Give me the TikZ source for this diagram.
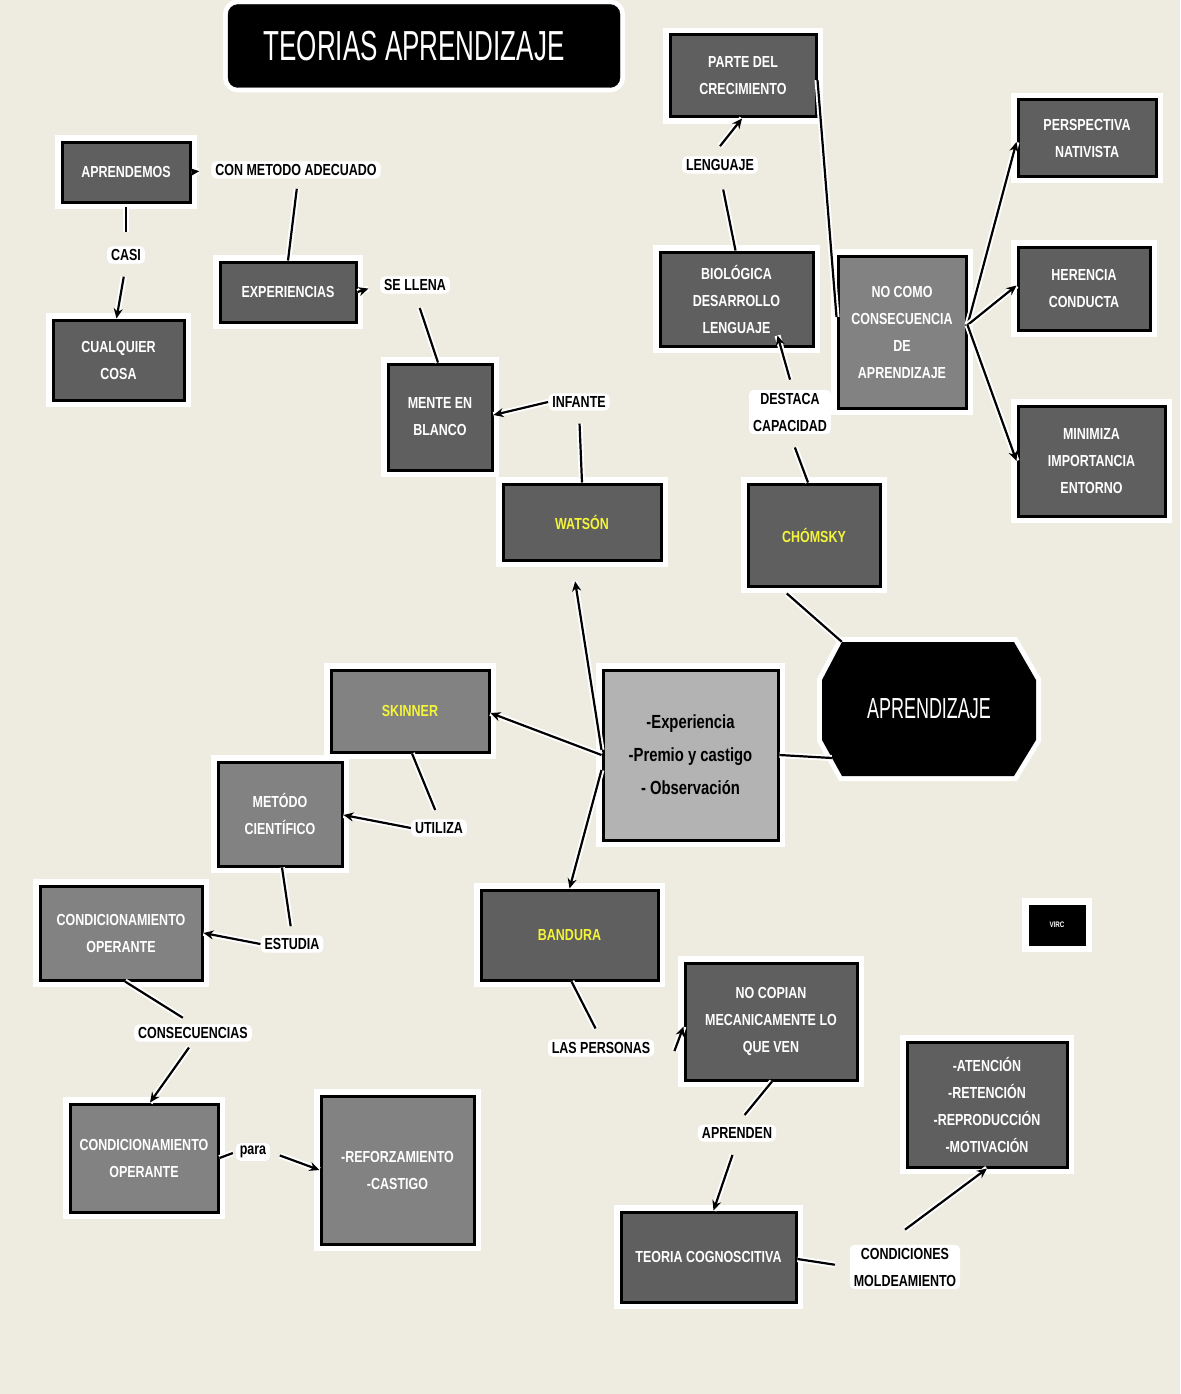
\documentclass[tikz,border=0pt]{standalone}
\usepackage{fontspec}
\setmainfont{Liberation Sans}
\newfontfamily\narf[FakeStretch=0.78]{Liberation Sans}
\newfontfamily\titf[FakeStretch=0.62]{Liberation Sans}
\usetikzlibrary{arrows.meta}
\definecolor{bgc}{HTML}{EEEBE0}
\definecolor{dkg}{HTML}{5F5F5F}
\definecolor{mdg}{HTML}{828282}
\definecolor{ltg}{HTML}{B3B3B3}
\definecolor{yel}{HTML}{F4F43A}
\pgfdeclarelayer{canvas}
\pgfsetlayers{canvas,main}
\newcommand\bxfont{\narf\bfseries\fontsize{16}{27}\selectfont}
\tikzset{
 box/.style={draw=black,line width=3pt,fill=dkg,preaction={draw=white,line width=14pt},text=white,font=\bxfont,align=center,inner sep=0pt},
 boxm/.style={box,fill=mdg},
 lab/.style={fill=white,rounded corners=5pt,inner xsep=4pt,inner ysep=3pt,text=black,font=\bxfont,align=center},
 conn/.style={line width=2.2pt,black,preaction={draw=white,line width=6pt,arrows=-}},
 arr/.style={conn,-{Stealth[length=10pt,width=9pt]}},
 yname/.style={text=yel}
}
\begin{document}
\begin{tikzpicture}[x=1pt,y=-1pt]
\begin{pgfonlayer}{canvas}
\fill[bgc] (0,0) rectangle (1180,1394);
\end{pgfonlayer}
\useasboundingbox (0,0) rectangle (1180,1394);

% title
\node[draw=black,fill=black,rounded corners=10pt,preaction={draw=white,line width=10pt},minimum width=392pt,minimum height=83pt,text=white,font=\titf\fontsize{42}{46}\selectfont,inner sep=0pt] (title) at (424,46) {TEORIAS APRENDIZAJE\hspace*{20pt}};

% boxes
\node[box,minimum width=128pt,minimum height=60pt] (aprendemos) at (126,172) {APRENDEMOS};
\node[box,minimum width=131pt,minimum height=80pt] (cualquier) at (118.5,360) {CUALQUIER\\COSA};
\node[box,minimum width=136pt,minimum height=60pt] (experiencias) at (288,292) {EXPERIENCIAS};
\node[box,minimum width=104pt,minimum height=106pt] (mente) at (440,417) {MENTE EN\\BLANCO};
\node[box,minimum width=158pt,minimum height=76pt,yname] (watson) at (582,522) {WATSÓN};
\node[box,minimum width=146pt,minimum height=82pt] (parte) at (743,76) {PARTE DEL\\CRECIMIENTO};
\node[box,minimum width=153pt,minimum height=94pt] (biologica) at (736.5,299) {BIOLÓGICA\\DESARROLLO\\LENGUAJE};
\node[boxm,minimum width=128pt,minimum height=152pt] (nocomo) at (902,332) {NO COMO\\CONSECUENCIA\\DE\\APRENDIZAJE};
\node[box,minimum width=138pt,minimum height=76pt] (perspectiva) at (1087,138) {PERSPECTIVA\\NATIVISTA};
\node[box,minimum width=132pt,minimum height=83pt] (herencia) at (1084,288.5) {HERENCIA\\CONDUCTA};
\node[box,minimum width=147pt,minimum height=110pt] (minimiza) at (1091.5,461) {MINIMIZA\\IMPORTANCIA\\ENTORNO};
\node[box,minimum width=132pt,minimum height=102pt,yname] (chomsky) at (814,535) {CHÓMSKY};
\node[box,fill=ltg,text=black,font=\narf\bfseries\fontsize{19}{33}\selectfont,minimum width=175pt,minimum height=170pt] (central) at (690.5,755) {-Experiencia\\-Premio y castigo\\- Observación};
\node[boxm,minimum width=158pt,minimum height=82pt,yname] (skinner) at (410,711) {SKINNER};
\node[boxm,minimum width=124pt,minimum height=104pt] (metodo) at (280,814) {METÓDO\\CIENTÍFICO};
\node[boxm,minimum width=162pt,minimum height=94pt] (cond1) at (121,933) {CONDICIONAMIENTO\\OPERANTE};
\node[boxm,minimum width=148pt,minimum height=108pt] (cond2) at (144,1158) {CONDICIONAMIENTO\\OPERANTE};
\node[boxm,minimum width=153pt,minimum height=148pt] (reforz) at (397.5,1170) {-REFORZAMIENTO\\-CASTIGO};
\node[box,minimum width=177pt,minimum height=90pt,yname] (bandura) at (569.5,935) {BANDURA};
\node[box,minimum width=172pt,minimum height=117pt] (nocopian) at (771,1021.5) {NO COPIAN\\MECANICAMENTE LO\\QUE VEN};
\node[box,minimum width=175pt,minimum height=90pt] (teoria) at (708.5,1257) {TEORIA COGNOSCITIVA};
\node[box,minimum width=160pt,minimum height=125pt] (atencion) at (987,1104.5) {-ATENCIÓN\\-RETENCIÓN\\-REPRODUCCIÓN\\-MOTIVACIÓN};
\node[box,fill=black,line width=1pt,minimum width=56pt,minimum height=40pt,font=\narf\bfseries\fontsize{8}{9}\selectfont] (virc) at (1057,925) {VIRC};

% octagon
\fill[black,preaction={draw=white,line width=10pt}] (842,642) -- (1014,642) -- (1036,680) -- (1036,740) -- (1014,776) -- (842,776) -- (822,740) -- (822,680) -- cycle;
\node[minimum width=214pt,minimum height=134pt,inner sep=0pt,text=white,font=\titf\fontsize{29}{32}\selectfont] (apz) at (929,709) {APRENDIZAJE};

% labels
\node[lab] (adecuado) at (296,170) {CON METODO ADECUADO};
\node[lab] (casi) at (126,255) {CASI};
\node[lab] (sellena) at (415,285) {SE LLENA};
\node[lab] (infante) at (579,402) {INFANTE};
\node[lab] (lenguaje) at (720,165) {LENGUAJE};
\node[lab] (destaca) at (790,412) {DESTACA\\CAPACIDAD};
\node[lab] (utiliza) at (439,828) {UTILIZA};
\node[lab] (estudia) at (292,944) {ESTUDIA};
\node[lab] (consecuencias) at (193,1033) {CONSECUENCIAS};
\node[lab] (para) at (253,1152) {para};
\node[lab] (laspersonas) at (601,1048) {LAS PERSONAS};
\node[lab] (aprenden) at (737,1133) {APRENDEN};
\node[lab] (condiciones) at (905,1267) {CONDICIONES\\MOLDEAMIENTO};

% connectors
\draw[arr,shorten >=12pt] (aprendemos.east) -- (adecuado.west);
\draw[conn,shorten <=10pt] ([xshift=2pt]adecuado.south) -- (experiencias.north);
\draw[conn,shorten <=3pt,shorten >=14pt] (aprendemos.south) -- (casi.north);
\draw[arr,shorten <=13pt] (casi.south) -- ([xshift=-2pt]cualquier.north);
\draw[arr,shorten >=12pt] (experiencias.east) -- (sellena.west);
\draw[conn,shorten <=15pt] (sellena.south) -- ([xshift=-2pt]mente.north);
\draw[arr] (infante.west) -- ([yshift=2pt]mente.east);
\draw[conn,shorten <=13pt] (infante.south) -- (watson.north);
\draw[arr,shorten >=20pt] ([yshift=5pt]central.west) -- ([xshift=-10pt]watson.south);
\draw[arr] (central.west) -- ([yshift=-2pt]skinner.east);
\draw[arr] ([yshift=-15pt]central.west) -- (bandura.north);
\draw[conn] (central.east) -- ([xshift=10pt,yshift=-49pt]apz.west);
\draw[conn,shorten >=9pt] ([xshift=20pt]apz.north west) -- ([xshift=-34pt]chomsky.south);
\draw[conn,shorten >=14pt] ([xshift=-6pt]chomsky.north) -- (destaca.south);
\draw[arr] ([yshift=10pt]destaca.north) -- ([xshift=41pt,yshift=12pt]biologica.south);
\draw[conn,shorten >=16pt] ([xshift=-1pt]biologica.north) -- (lenguaje.south);
\draw[arr] ([yshift=10pt]lenguaje.north) -- ([xshift=-1pt]parte.south);
\draw[conn] ([yshift=-4pt]parte.east) -- ([yshift=15pt]nocomo.west);
\draw[arr] ([yshift=7pt]nocomo.east) -- ([yshift=-4pt]perspectiva.west);
\draw[arr] ([yshift=7pt]nocomo.east) -- ([yshift=3pt]herencia.west);
\draw[arr] ([yshift=7pt]nocomo.east) -- (minimiza.west);
\draw[conn,shorten >=10pt] ([xshift=2pt]skinner.south) -- (utiliza.north);
\draw[arr] (utiliza.west) -- ([yshift=-1pt]metodo.east);
\draw[conn,shorten >=9pt] ([xshift=2pt]metodo.south) -- (estudia.north);
\draw[arr] (estudia.west) -- (cond1.east);
\draw[conn,shorten >=12pt] ([xshift=4pt]cond1.south) -- (consecuencias.north);
\draw[arr,shorten <=7pt] (consecuencias.south) -- ([xshift=6pt]cond2.north);
\draw[conn,shorten >=3pt] (cond2.east) -- (para.west);
\draw[arr,shorten <=10pt] (para.east) -- (reforz.west);
\draw[conn,shorten >=12pt] ([xshift=2pt]bandura.south) -- (laspersonas.north);
\draw[arr] ([xshift=20pt,yshift=-3pt]laspersonas.east) -- ([yshift=-5pt]nocopian.west);
\draw[conn,shorten >=12pt] ([xshift=1pt]nocopian.south) -- (aprenden.north);
\draw[arr,shorten <=14pt] (aprenden.south) -- ([xshift=5pt]teoria.north);
\draw[conn,shorten >=15pt] ([yshift=-2pt]teoria.east) -- (condiciones.west);
\draw[arr] ([yshift=15pt]condiciones.north) -- (atencion.south);
\end{tikzpicture}
\end{document}
